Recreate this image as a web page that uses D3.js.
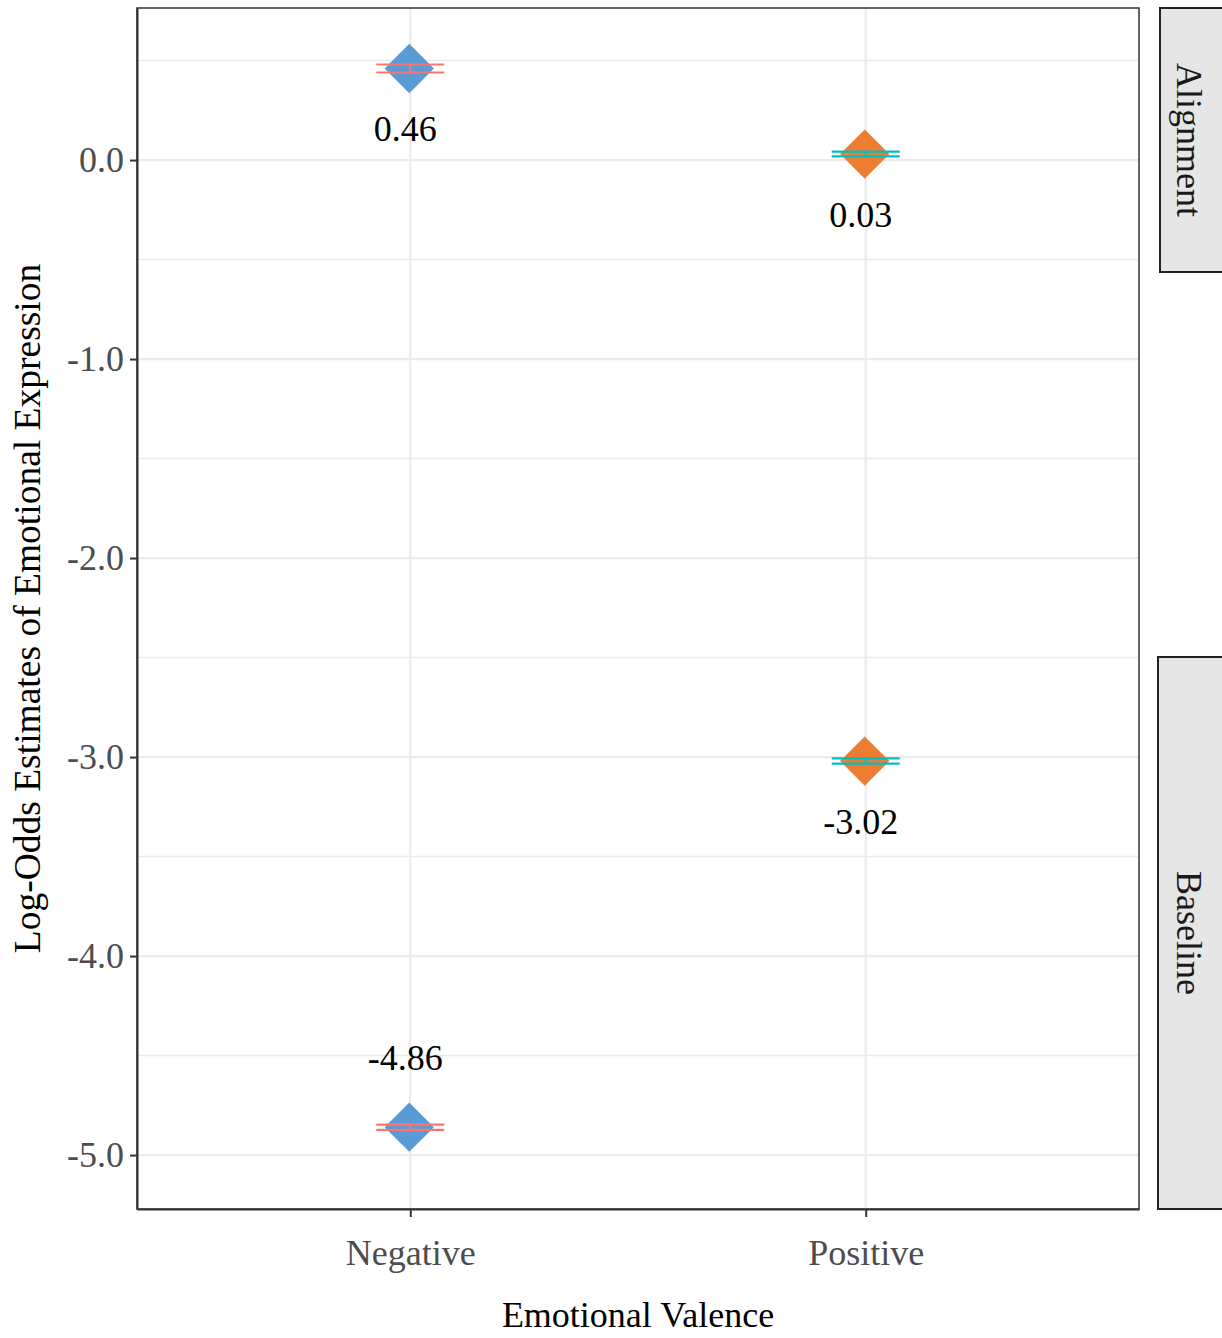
<!DOCTYPE html>
<html>
<head>
<meta charset="utf-8">
<script src="https://cdn.jsdelivr.net/npm/d3@7"></script>
<style>
  html, body { margin: 0; padding: 0; background: #ffffff; }
  svg { display: block; font-family: "Liberation Serif", "Times New Roman", serif; }
</style>
</head>
<body>
<svg id="chart" width="1222" height="1338"></svg>
<script>
// Log-odds estimates by valence and condition
const valences   = ["Negative", "Positive"];
const conditions = ["Alignment", "Alignment", "Baseline", "Baseline"];
const pointValence = ["Negative", "Positive", "Positive", "Negative"];
const estimates  = [0.46, 0.03, -3.02, -4.86];
const lowerCI    = [0.44, 0.018, -3.033, -4.873];
const upperCI    = [0.48, 0.042, -3.007, -4.847];
const yTicks     = [0, -1, -2, -3, -4, -5];
const yMinor     = [0.5, -0.5, -1.5, -2.5, -3.5, -4.5];
const fillColors = { Negative: "#5B9BD5", Positive: "#ED7D31" };
const barColors  = { Negative: "#F8766D", Positive: "#00BFC4" };

const SERIF = "'Liberation Serif', 'Times New Roman', serif";
const svg = d3.select("#chart");
const panel = { left: 137, right: 1139, top: 8, bottom: 1209 };

const x = d3.scalePoint()
  .domain(valences)
  .range([panel.left, panel.right])
  .padding(0.6);

const y = d3.scaleLinear()
  .domain([-5.271, 0.764])
  .range([panel.bottom, panel.top]);

// gridlines
const grid = svg.append("g");
grid.selectAll("line.minor").data(yMinor).join("line")
  .attr("x1", panel.left).attr("x2", panel.right)
  .attr("y1", d => y(d)).attr("y2", d => y(d))
  .attr("stroke", "#EBEBEB").attr("stroke-width", 1.5);
grid.selectAll("line.major").data(yTicks).join("line")
  .attr("x1", panel.left).attr("x2", panel.right)
  .attr("y1", d => y(d)).attr("y2", d => y(d))
  .attr("stroke", "#EBEBEB").attr("stroke-width", 2.2);
grid.selectAll("line.vmajor").data(valences).join("line")
  .attr("x1", d => x(d)).attr("x2", d => x(d))
  .attr("y1", panel.top).attr("y2", panel.bottom)
  .attr("stroke", "#EBEBEB").attr("stroke-width", 2.2);

// points
const rows = estimates.map((v, i) => ({
  valence: pointValence[i], cond: conditions[i], est: v, lo: lowerCI[i], hi: upperCI[i]
}));

const diamond = d3.symbol().type(d3.symbolDiamond2).size(1550);
svg.append("g").selectAll("path").data(rows).join("path")
  .attr("d", diamond)
  .attr("transform", d => `translate(${x(d.valence) - 1},${y(d.est)})`)
  .attr("fill", d => fillColors[d.valence]);

// error bars
const eb = svg.append("g").selectAll("g").data(rows).join("g")
  .attr("stroke", d => barColors[d.valence])
  .attr("stroke-width", 2.2)
  .attr("fill", "none");
const halfW = 34;
eb.append("line")
  .attr("x1", d => x(d.valence) - halfW).attr("x2", d => x(d.valence) + halfW)
  .attr("y1", d => y(d.hi)).attr("y2", d => y(d.hi));
eb.append("line")
  .attr("x1", d => x(d.valence) - halfW).attr("x2", d => x(d.valence) + halfW)
  .attr("y1", d => y(d.lo)).attr("y2", d => y(d.lo));
eb.append("line")
  .attr("x1", d => x(d.valence)).attr("x2", d => x(d.valence))
  .attr("y1", d => y(d.hi)).attr("y2", d => y(d.lo));

// value labels
svg.append("g").selectAll("text").data(rows).join("text")
  .attr("x", d => x(d.valence) - 5)
  .attr("y", d => d.est < -4 ? y(d.est) - 57 : y(d.est) + 73)
  .attr("text-anchor", "middle")
  .attr("font-family", SERIF)
  .attr("font-size", 36)
  .attr("fill", "#000")
  .text(d => d.est.toFixed(2));

// panel border
svg.append("rect")
  .attr("x", panel.left).attr("y", panel.top)
  .attr("width", panel.right - panel.left).attr("height", panel.bottom - panel.top)
  .attr("fill", "none").attr("stroke", "#333").attr("stroke-width", 1.5);

// y axis
const yAxis = svg.append("g")
  .attr("transform", `translate(${panel.left},0)`)
  .call(d3.axisLeft(y).tickValues(yTicks).tickFormat(d3.format(".1f"))
    .tickSize(7).tickSizeOuter(0).tickPadding(6));
yAxis.select(".domain").attr("stroke", "#333").attr("stroke-width", 2);
yAxis.selectAll(".tick line").attr("stroke", "#333").attr("stroke-width", 2);
yAxis.selectAll(".tick text")
  .attr("font-family", SERIF)
  .attr("font-size", 36).attr("fill", "#4D4D4D")
  .text(d => d3.format(".1f")(d).replace("−", "-"));

// x axis
const xAxis = svg.append("g")
  .attr("transform", `translate(0,${panel.bottom})`)
  .call(d3.axisBottom(x).tickSize(8).tickSizeOuter(0).tickPadding(22));
xAxis.select(".domain").attr("stroke", "#333").attr("stroke-width", 2);
xAxis.selectAll(".tick line").attr("stroke", "#333").attr("stroke-width", 2);
xAxis.selectAll(".tick text")
  .attr("font-family", SERIF)
  .attr("font-size", 36).attr("fill", "#4D4D4D");

// axis titles
svg.append("text")
  .attr("x", (panel.left + panel.right) / 2).attr("y", 1327)
  .attr("text-anchor", "middle").attr("font-family", SERIF)
  .attr("font-size", 36).attr("fill", "#000")
  .text("Emotional Valence");
svg.append("text")
  .attr("transform", `translate(40,${(panel.top + panel.bottom) / 2}) rotate(-90)`)
  .attr("text-anchor", "middle").attr("font-family", SERIF)
  .attr("font-size", 37.5).attr("fill", "#000")
  .text("Log-Odds Estimates of Emotional Expression");

// facet strips
const strips = [
  { label: "Alignment", x: 1160, top: 8, bottom: 272 },
  { label: "Baseline",  x: 1158, top: 657, bottom: 1209 }
];
const sg = svg.append("g").selectAll("g").data(strips).join("g");
sg.append("rect")
  .attr("x", d => d.x).attr("y", d => d.top)
  .attr("width", d => 1240 - d.x).attr("height", d => d.bottom - d.top)
  .attr("fill", "#E6E6E6").attr("stroke", "#222").attr("stroke-width", 2);
sg.append("text")
  .attr("transform", d => `translate(${1177},${(d.top + d.bottom) / 2}) rotate(90)`)
  .attr("text-anchor", "middle").attr("font-family", SERIF)
  .attr("font-size", 36).attr("fill", "#1A1A1A")
  .text(d => d.label);
</script>
</body>
</html>
